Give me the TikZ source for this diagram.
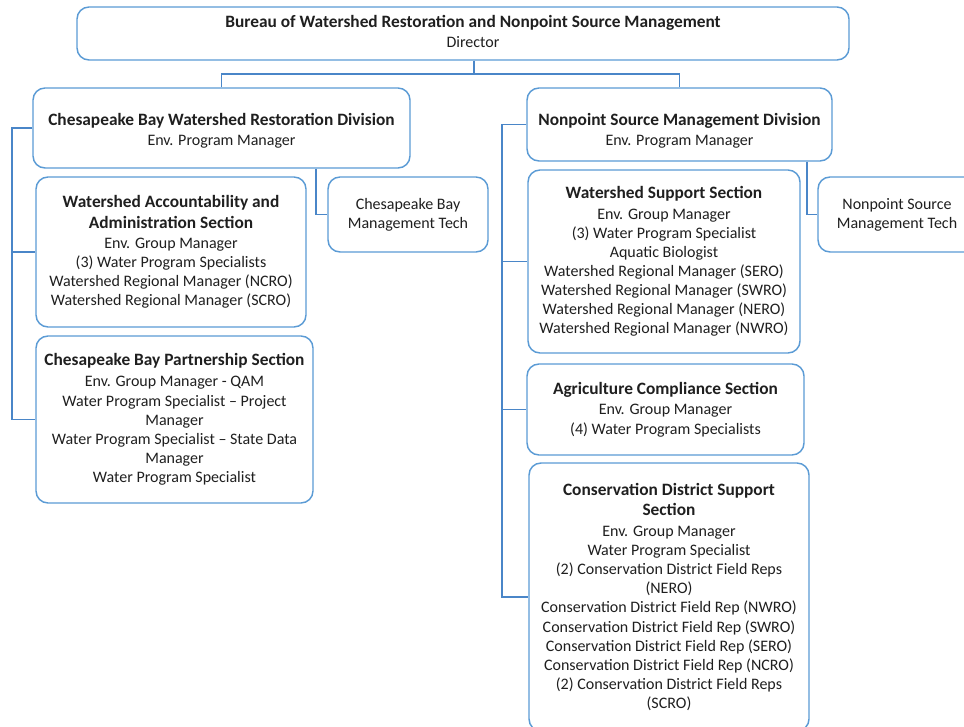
\documentclass[tikz,border=0pt]{standalone}
\usepackage{fontspec}
\setmainfont{Carlito}
\usepackage{xcolor}
\usepackage{tikz}

\definecolor{boxblue}{HTML}{5B9BD5}
\definecolor{linkblue}{HTML}{4A86C8}
\newcommand{\hd}[1]{{\fontsize{13}{16}\selectfont\bfseries #1}}

\begin{document}
\begin{tikzpicture}[x=0.75pt,y=-0.75pt,
    unit/.style={draw=boxblue, line width=1.1pt, rounded corners=9pt, fill=white,
        align=center, inner sep=0pt, text=black!88, font=\fontsize{12}{14.35}\selectfont},
    caption/.style={align=center, inner sep=0pt, text=black!88, font=\fontsize{12}{14.35}\selectfont},
    link/.style={draw=linkblue, line width=0.8pt}]
    \clip (0,0) rectangle (964,727);

    % bureau
    \node[unit, minimum width=579pt, minimum height=39.75pt] (top) at (463,33.5) {};
    \node[caption] (toptxt) at (473,31.5)
        {\hd{Bureau of Watershed Restoration and Nonpoint Source Management}\\[1pt]Director};

    % divisions
    \node[unit, minimum width=282.75pt, minimum height=60pt] (ldiv) at (221.5,128) {};
    \node[caption] (ldivtxt) at (221.5,131)
        {\hd{Chesapeake Bay Watershed Restoration Division}\\[1pt]Env. Program Manager};
    \node[unit, minimum width=228.75pt, minimum height=54.75pt] (rdiv) at (679.5,124.5) {};
    \node[caption] (rdivtxt) at (679.5,131)
        {\hd{Nonpoint Source Management Division}\\[1pt]Env. Program Manager};

    % left sections
    \node[unit, minimum width=202.5pt, minimum height=112.5pt] (waas) at (171,252)
        {\hd{Watershed Accountability and}\\[1pt]\hd{Administration Section}\\[1pt]Env. Group Manager\\(3) Water Program Specialists\\
         Watershed Regional Manager (NCRO)\\Watershed Regional Manager (SCRO)};
    \node[unit, minimum width=207.75pt, minimum height=125.25pt] (cbps) at (174.5,419.5)
        {\hd{Chesapeake Bay Partnership Section}\\[1.5pt]Env. Group Manager - QAM\\Water Program Specialist -- Project\\Manager\\
         Water Program Specialist -- State Data\\Manager\\Water Program Specialist};
    \node[unit, minimum width=120pt, minimum height=56.25pt] (cbtech) at (408,214.5)
        {Chesapeake Bay\\Management Tech};

    % right sections
    \node[unit, minimum width=204pt, minimum height=137.25pt] (wss) at (664,261.5)
        {\hd{Watershed Support Section}\\[1pt]Env. Group Manager\\(3) Water Program Specialist\\Aquatic Biologist\\
         Watershed Regional Manager (SERO)\\Watershed Regional Manager (SWRO)\\
         Watershed Regional Manager (NERO)\\Watershed Regional Manager (NWRO)};
    \node[unit, minimum width=207.75pt, minimum height=68.25pt] (acs) at (665.5,409.5)
        {\hd{Agriculture Compliance Section}\\[1pt]Env. Group Manager\\(4) Water Program Specialists};
    \node[unit, minimum width=210pt, minimum height=201pt] (cdss) at (669,597)
        {\hd{Conservation District Support}\\[1pt]\hd{Section}\\[1pt]Env. Group Manager\\Water Program Specialist\\
         (2) Conservation District Field Reps\\(NERO)\\Conservation District Field Rep (NWRO)\\
         Conservation District Field Rep (SWRO)\\Conservation District Field Rep (SERO)\\
         Conservation District Field Rep (NCRO)\\(2) Conservation District Field Reps\\(SCRO)};
    \node[unit, minimum width=118.5pt, minimum height=56.25pt] (npstech) at (897,214.5)
        {Nonpoint Source\\Management Tech};

    % connectors
    \coordinate (j) at (474,74);
    \draw[link] (top.south -| j) -- (j);
    \draw[link] (ldiv.north) |- (j) -| (rdiv.north);

    \coordinate (lsp) at (12,0);
    \draw[link] (ldiv.west) -| (cbps.west -| lsp) -- (cbps.west);
    \draw[link] (waas.west -| lsp) -- (waas.west);
    \coordinate (ltk) at (316,0);
    \draw[link] (ldiv.south -| ltk) |- (cbtech.west);

    \coordinate (rsp) at (502,0);
    \draw[link] (rdiv.west) -| (cdss.west -| rsp) -- (cdss.west);
    \draw[link] (wss.west -| rsp) -- (wss.west);
    \draw[link] (acs.west -| rsp) -- (acs.west);
    \coordinate (rtk) at (807,0);
    \draw[link] (rdiv.south -| rtk) |- (npstech.west);
\end{tikzpicture}
\end{document}
